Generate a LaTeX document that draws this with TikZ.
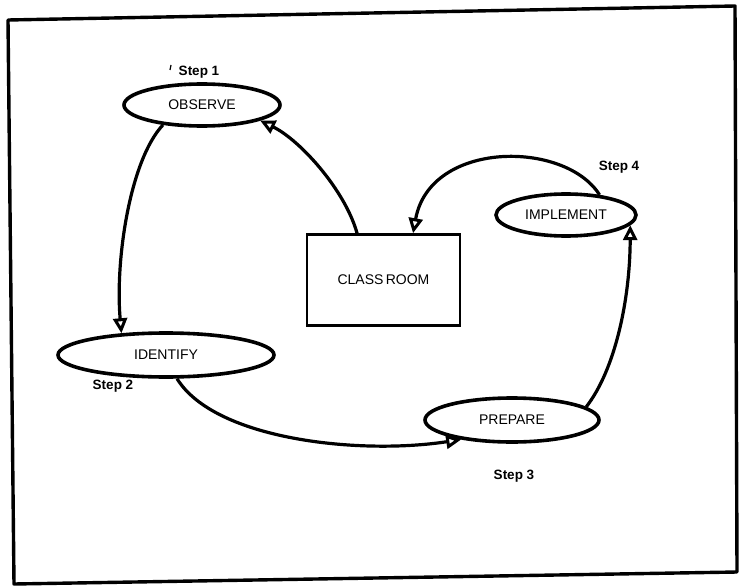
\documentclass[tikz,border=0pt]{standalone}
\usepackage{fontspec}
\setmainfont{Liberation Sans}
\usetikzlibrary{shapes.geometric,arrows.meta,calc}
\tikzset{
  stepell/.style={ellipse, draw, line width=3.6pt, inner sep=0pt, font=\fontsize{14}{16}\selectfont},
  roombox/.style={rectangle, draw, line width=2.6pt, inner sep=0pt, font=\fontsize{14}{16}\selectfont},
  steplabel/.style={font=\fontsize{13.5}{15}\selectfont\bfseries, inner sep=0pt},
  flow/.style={line width=3.2pt, -{Triangle[open, length=15pt, width=14pt, line width=3pt]}},
  frameline/.style={line width=3.4pt, line join=round}
}
\begin{document}
\begin{tikzpicture}[x=1pt, y=-1pt]
\useasboundingbox (0,0) rectangle (739,586);
% frame
\draw[frameline] (8,20) -- (735,6) -- (737,572) -- (14,584) -- cycle;
% nodes
\node[stepell, minimum width=156pt, minimum height=42pt] (obs) at (202,105) {OBSERVE};
\node[stepell, minimum width=140pt, minimum height=42pt] (imp) at (566,215) {IMPLEMENT};
\node[stepell, minimum width=216pt, minimum height=44pt] (ide) at (166,355) {IDENTIFY};
\node[stepell, minimum width=174pt, minimum height=44pt] (pre) at (512,420) {PREPARE};
\node[roombox, minimum width=153pt, minimum height=91pt] (room) at (383.5,280) {CLASS\,ROOM};
% labels
\node[steplabel] (s1) at (199,72) {Step 1};
\node[steplabel] (s2) at (113,386) {Step 2};
\node[steplabel] (s3) at (514,476) {Step 3};
\node[steplabel] (s4) at (619,167) {Step 4};
\coordinate (tickA) at (171,65);
\coordinate (tickB) at (170,70);
\draw[line width=1.2pt] (tickA) -- (tickB);
% connectors
\coordinate (roomIn) at ($(room.north west)!0.69!(room.north east)$);
\coordinate (roomOut) at ($(room.north west)!0.33!(room.north east)$);
\draw[flow] (obs.207) .. controls (130,160) and (115,260) .. (ide.154);
\draw[flow] (ide.295) .. controls (215,440) and (360,455) .. (pre.201);
\draw[flow] (pre.10) .. controls (615,370) and (630,300) .. (imp.351);
\draw[flow] (imp.31) .. controls (565,140) and (430,140) .. (roomIn);
\draw[flow] (roomOut) .. controls (345,190) and (300,140) .. (obs.345);
\end{tikzpicture}
\end{document}
